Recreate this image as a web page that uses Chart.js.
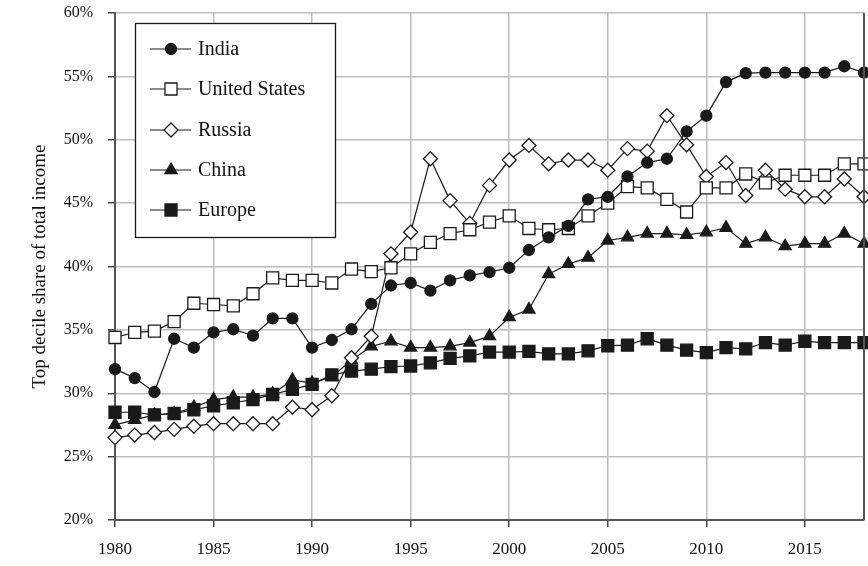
<!DOCTYPE html>
<html>
<head>
<meta charset="utf-8">
<script src="https://cdn.jsdelivr.net/npm/chart.js@4"></script>
<style>
  html, body { margin: 0; padding: 0; background: #fff; }
  #wrap { width: 868px; height: 566px; }
</style>
</head>
<body>
<div id="wrap"><canvas id="chart" width="868" height="566"></canvas></div>
<script>
// years 1980 - 2018
const years = [];
for (let y = 1980; y <= 2018; y++) years.push(y);

const india = [31.9, 31.2, 30.1, 34.3, 33.6, 34.8, 35.05, 34.55, 35.9, 35.9,
  33.6, 34.2, 35.05, 37.05, 38.5, 38.7, 38.1, 38.9, 39.3, 39.55,
  39.9, 41.3, 42.3, 43.2, 45.3, 45.5, 47.1, 48.2, 48.5, 50.65,
  51.9, 54.55, 55.25, 55.3, 55.3, 55.3, 55.3, 55.8, 55.3];
const unitedStates = [34.4, 34.8, 34.9, 35.65, 37.1, 37.0, 36.9, 37.85, 39.1, 38.9,
  38.9, 38.7, 39.8, 39.6, 39.9, 41.0, 41.9, 42.6, 42.9, 43.5,
  44.0, 43.0, 42.9, 43.0, 44.0, 45.0, 46.3, 46.2, 45.3, 44.3,
  46.2, 46.2, 47.3, 46.6, 47.2, 47.2, 47.2, 48.1, 48.1];
const russia = [26.5, 26.7, 26.9, 27.15, 27.4, 27.6, 27.6, 27.6, 27.6, 28.9,
  28.7, 29.8, 32.8, 34.5, 41.0, 42.7, 48.5, 45.2, 43.4, 46.4,
  48.4, 49.55, 48.1, 48.4, 48.4, 47.6, 49.3, 49.1, 51.9, 49.6,
  47.1, 48.2, 45.6, 47.6, 46.1, 45.5, 45.5, 46.9, 45.5];
const china = [27.5, 27.9, 28.3, 28.4, 28.9, 29.5, 29.7, 29.7, 29.95, 31.05,
  30.8, 31.3, 32.6, 33.7, 34.1, 33.6, 33.6, 33.7, 34.0, 34.5,
  36.0, 36.6, 39.4, 40.2, 40.7, 42.05, 42.3, 42.6, 42.6, 42.5,
  42.7, 43.05, 41.8, 42.3, 41.6, 41.8, 41.8, 42.6, 41.8];
const europe = [28.5, 28.5, 28.3, 28.4, 28.7, 29.0, 29.25, 29.5, 29.9, 30.3,
  30.7, 31.45, 31.75, 31.9, 32.1, 32.15, 32.4, 32.75, 32.95, 33.25,
  33.25, 33.3, 33.1, 33.1, 33.35, 33.75, 33.8, 34.3, 33.8, 33.4,
  33.2, 33.6, 33.5, 34.0, 33.8, 34.1, 34.0, 34.0, 34.0];

const seriesNames = ['India', 'United States', 'Russia', 'China', 'Europe'];
const yTicks = [20, 25, 30, 35, 40, 45, 50, 55, 60];
const xTicks = [1980, 1985, 1990, 1995, 2000, 2005, 2010, 2015];

const serif = "'Liberation Serif', 'DejaVu Serif', serif";
const ink = '#1a1a1a';

function toPoints(arr) {
  return arr.map((v, i) => ({ x: years[i], y: v }));
}

function makeSet(label, values, style, radius, fill) {
  return {
    label: label,
    data: toPoints(values),
    borderColor: ink,
    borderWidth: 1.2,
    pointStyle: style,
    pointRadius: radius,
    pointHoverRadius: radius,
    pointBackgroundColor: fill,
    pointBorderColor: ink,
    pointBorderWidth: 1.3,
    tension: 0,
    clip: false
  };
}

// legend box with line + marker samples, drawn over the grid
const boxLegend = {
  id: 'boxLegend',
  afterDatasetsDraw(chart) {
    const ctx = chart.ctx;
    const x0 = 135, y0 = 23, w = 200, h = 214;
    ctx.save();
    ctx.fillStyle = '#fff';
    ctx.fillRect(x0, y0, w, h);
    ctx.strokeStyle = ink;
    ctx.lineWidth = 1.3;
    ctx.strokeRect(x0 + 0.5, y0 + 0.5, w, h);
    const rows = [49, 89, 130, 170, 210];
    chart.data.datasets.forEach((ds, i) => {
      const cy = rows[i];
      ctx.strokeStyle = ink;
      ctx.lineWidth = 1.2;
      ctx.beginPath();
      ctx.moveTo(150, cy);
      ctx.lineTo(191, cy);
      ctx.stroke();
      ctx.fillStyle = ds.pointBackgroundColor;
      ctx.strokeStyle = ink;
      ctx.lineWidth = 1.3;
      Chart.helpers.drawPoint(ctx, { pointStyle: ds.pointStyle, radius: ds.pointRadius, rotation: 0, borderWidth: 1.3 }, 171, cy);
      ctx.fillStyle = '#111';
      ctx.font = '20px ' + serif;
      ctx.textBaseline = 'middle';
      ctx.textAlign = 'left';
      ctx.fillText(ds.label, 198, cy + 1);
    });
    ctx.restore();
  }
};

// right frame edge
const frameEdge = {
  id: 'frameEdge',
  afterDraw(chart) {
    const a = chart.chartArea;
    const ctx = chart.ctx;
    ctx.save();
    ctx.strokeStyle = '#555';
    ctx.lineWidth = 2;
    ctx.beginPath();
    ctx.moveTo(a.right, a.top);
    ctx.lineTo(a.right, a.bottom);
    ctx.stroke();
    ctx.restore();
  }
};

const datasets = [
  makeSet(seriesNames[0], india, 'circle', 5.5, ink),
  makeSet(seriesNames[1], unitedStates, 'rect', 8.5, '#fff'),
  makeSet(seriesNames[2], russia, 'rectRot', 7, '#fff'),
  makeSet(seriesNames[3], china, 'triangle', 7, ink),
  makeSet(seriesNames[4], europe, 'rect', 8.5, ink)
];

new Chart(document.getElementById('chart'), {
  type: 'line',
  data: { datasets: datasets },
  options: {
    responsive: false,
    animation: false,
    events: [],
    layout: { autoPadding: false, padding: { top: 13, right: 4, left: 0, bottom: 0 } },
    plugins: {
      legend: { display: false },
      tooltip: { enabled: false }
    },
    scales: {
      x: {
        type: 'linear',
        min: 1980,
        max: 2018,
        afterBuildTicks: function(scale) {
          scale.ticks = xTicks.map(v => ({ value: v }));
        },
        afterFit: function(scale) {
          scale.height = 46;
          scale.paddingLeft = 0;
          scale.paddingRight = 0;
        },
        ticks: {
          color: '#111',
          font: { family: serif, size: 17 },
          padding: 12,
          maxRotation: 0,
          callback: v => String(v)
        },
        grid: { color: '#bdbdbd', lineWidth: 1.5, tickLength: 7, tickColor: '#444' },
        border: { color: '#555', width: 2 }
      },
      y: {
        min: 20,
        max: 60,
        afterBuildTicks: function(scale) {
          scale.ticks = yTicks.map(v => ({ value: v }));
        },
        afterFit: function(scale) {
          scale.width = 115;
          scale.paddingTop = 0;
          scale.paddingBottom = 0;
        },
        ticks: {
          color: '#111',
          font: { family: serif, size: 16 },
          padding: 15,
          callback: v => v + '%'
        },
        grid: { color: '#bdbdbd', lineWidth: 1.5, tickLength: 7, tickColor: '#444' },
        border: { color: '#555', width: 2 },
        title: {
          display: true,
          text: 'Top decile share of total income',
          color: '#111',
          font: { family: serif, size: 19 },
          padding: { top: 29, bottom: 0 }
        }
      }
    }
  },
  plugins: [boxLegend, frameEdge]
});
</script>
</body>
</html>
